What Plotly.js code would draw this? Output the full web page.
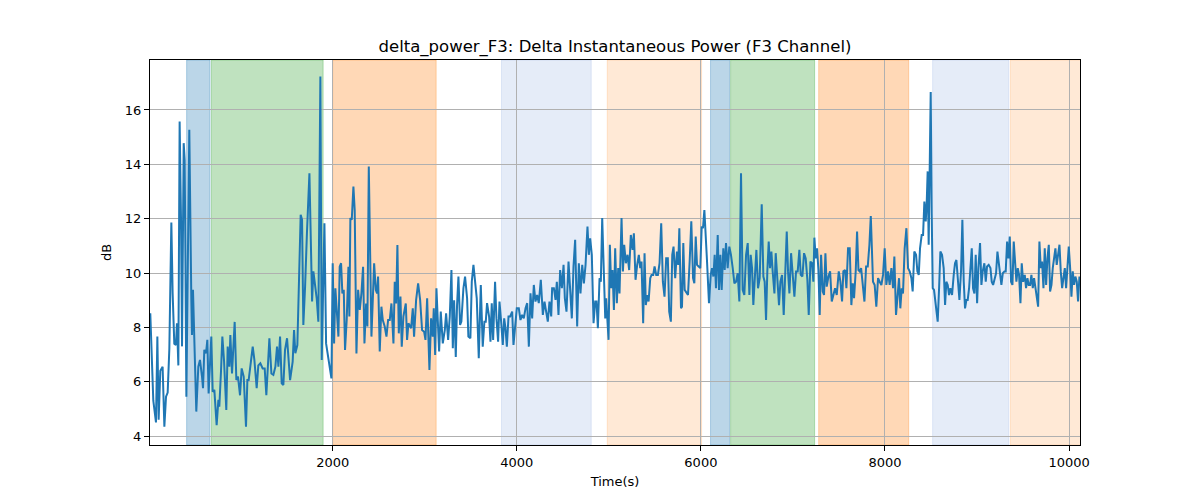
<!DOCTYPE html>
<html>
<head>
<meta charset="utf-8">
<script src="https://cdn.plot.ly/plotly-3.0.1.min.js"></script>
<style>
	html, body { margin: 0; padding: 0; background: #fff; }
	#chart { width: 1200px; height: 500px; }
</style>
</head>
<body>
<div id="chart"></div>
<script>
// time in seconds and delta power in dB
var timeSec = [
	18, 51, 80, 95, 109, 127, 152, 171, 189, 207, 225, 247, 261, 279, 297, 308, 323, 337, 352, 363,
	381, 392, 410, 442, 464, 471, 482, 497, 518, 540, 558, 580, 591, 605, 624, 638, 652, 681, 696, 714,
	739, 758, 768, 787, 801, 819, 844, 859, 877, 888, 906, 935, 953, 971, 993, 1011, 1033, 1058, 1073, 1087,
	1102, 1131, 1149, 1174, 1192, 1214, 1239, 1261, 1279, 1312, 1334, 1355, 1377, 1395, 1410, 1428, 1446, 1464, 1482, 1504,
	1537, 1565, 1580, 1594, 1616, 1652, 1667, 1681, 1700, 1710, 1720, 1747, 1776, 1790, 1808, 1826, 1844, 1866, 1881, 1895,
	1910, 1928, 1957, 1986, 2000, 2015, 2029, 2044, 2062, 2076, 2091, 2105, 2120, 2134, 2152, 2171, 2181, 2192, 2207, 2225,
	2239, 2258, 2276, 2294, 2312, 2330, 2345, 2363, 2377, 2392, 2410, 2421, 2450, 2468, 2482, 2493, 2511, 2529, 2544, 2565,
	2584, 2602, 2620, 2638, 2660, 2674, 2689, 2703, 2718, 2736, 2750, 2768, 2794, 2808, 2823, 2837, 2852, 2870, 2884, 2906,
	2928, 2950, 2971, 2993, 3008, 3026, 3051, 3069, 3087, 3098, 3113, 3127, 3142, 3156, 3174, 3196, 3218, 3232, 3254, 3272,
	3290, 3305, 3319, 3337, 3351, 3366, 3384, 3398, 3420, 3438, 3460, 3474, 3496, 3511, 3529, 3547, 3565, 3587, 3609, 3630,
	3648, 3663, 3677, 3699, 3714, 3728, 3743, 3764, 3779, 3797, 3812, 3830, 3848, 3863, 3877, 3892, 3910, 3928, 3950, 3964,
	3982, 4000, 4022, 4040, 4058, 4076, 4095, 4113, 4131, 4149, 4167, 4185, 4203, 4221, 4239, 4261, 4283, 4301, 4319, 4337,
	4355, 4374, 4384, 4403, 4421, 4435, 4453, 4471, 4490, 4508, 4522, 4540, 4562, 4580, 4598, 4616, 4634, 4656, 4674, 4692,
	4711, 4729, 4747, 4768, 4783, 4797, 4815, 4834, 4852, 4866, 4881, 4899, 4913, 4928, 4946, 4961, 4971, 4982, 4997, 5011,
	5026, 5040, 5055, 5069, 5087, 5102, 5116, 5138, 5153, 5167, 5185, 5203, 5221, 5239, 5258, 5272, 5290, 5308, 5326, 5341,
	5355, 5373, 5388, 5402, 5417, 5432, 5450, 5464, 5482, 5497, 5515, 5533, 5551, 5569, 5587, 5605, 5623, 5641, 5656, 5674,
	5689, 5703, 5721, 5740, 5754, 5766, 5784, 5795, 5809, 5824, 5846, 5860, 5878, 5896, 5915, 5929, 5944, 5958, 5976, 5994,
	6009, 6023, 6038, 6052, 6067, 6088, 6107, 6121, 6136, 6150, 6164, 6183, 6197, 6212, 6226, 6244, 6259, 6273, 6291, 6309,
	6327, 6346, 6364, 6382, 6400, 6418, 6436, 6454, 6472, 6491, 6509, 6527, 6541, 6556, 6570, 6588, 6603, 6621, 6639, 6661,
	6679, 6693, 6708, 6722, 6737, 6751, 6766, 6780, 6799, 6813, 6831, 6849, 6864, 6882, 6900, 6918, 6933, 6947, 6962, 6980,
	6998, 7016, 7034, 7052, 7070, 7085, 7103, 7121, 7139, 7157, 7172, 7190, 7208, 7222, 7233, 7248, 7262, 7277, 7291, 7306,
	7324, 7338, 7353, 7367, 7386, 7404, 7422, 7440, 7458, 7476, 7498, 7516, 7534, 7548, 7567, 7581, 7599, 7617, 7635, 7650,
	7664, 7683, 7697, 7712, 7726, 7741, 7759, 7777, 7795, 7813, 7831, 7846, 7870, 7888, 7906, 7925, 7943, 7961, 7979, 7997,
	8015, 8033, 8051, 8070, 8088, 8102, 8120, 8138, 8153, 8167, 8182, 8196, 8214, 8233, 8251, 8269, 8287, 8301, 8319, 8338,
	8352, 8367, 8381, 8399, 8414, 8428, 8443, 8454, 8464, 8475, 8486, 8497, 8508, 8519, 8533, 8548, 8559, 8573, 8588, 8602,
	8620, 8638, 8653, 8667, 8682, 8696, 8711, 8729, 8747, 8761, 8776, 8794, 8809, 8827, 8841, 8856, 8870, 8885, 8899, 8914,
	8928, 8943, 8957, 8972, 8986, 9001, 9015, 9033, 9048, 9062, 9080, 9095, 9109, 9127, 9146, 9160, 9175, 9189, 9207, 9222,
	9236, 9251, 9265, 9280, 9298, 9312, 9327, 9341, 9356, 9370, 9385, 9399, 9414, 9428, 9443, 9457, 9472, 9486, 9501, 9519,
	9533, 9548, 9562, 9577, 9591, 9606, 9620, 9635, 9649, 9664, 9678, 9693, 9707, 9722, 9736, 9751, 9765, 9780, 9794, 9809,
	9823, 9838, 9852, 9866, 9881, 9896, 9910, 9925, 9939, 9954, 9968, 9983, 9997, 10012, 10026, 10040, 10055, 10069, 10084, 10098,
	10113
];

var deltaDb = [
	8.52, 5.3, 4.5, 7.66, 4.6, 6.4, 6.55, 4.34, 5.45, 5.6, 7.2, 11.86, 9.25, 7.4, 7.35, 8.15, 6.6, 15.58, 11.95, 7.3,
	14.78, 14.16, 5.45, 15.27, 9.0, 7.72, 9.38, 7.66, 4.9, 6.55, 6.8, 6.19, 5.76, 7.17, 7.05, 7.54, 5.57, 7.66, 5.63, 5.7,
	4.4, 5.33, 5.08, 6.43, 7.66, 6.8, 4.96, 7.29, 6.55, 7.72, 6.3, 8.2, 6.06, 6.19, 5.5, 6.49, 6.19, 4.34, 6.06, 6.06,
	6.43, 7.29, 6.8, 5.76, 6.6, 6.68, 6.49, 6.49, 5.5, 7.6, 6.3, 6.25, 6.55, 7.29, 6.55, 7.66, 5.94, 5.88, 7.17, 7.6,
	6.06, 6.74, 7.9, 7.05, 7.35, 12.14, 11.96, 8.09, 9.5, 10.97, 11.46, 13.67, 8.95, 10.06, 9.62, 9.07, 8.21, 17.23, 6.8, 9.0,
	11.83, 7.41, 6.8, 6.12, 10.36, 7.41, 9.44, 8.52, 7.66, 10.23, 10.36, 9.25, 9.38, 7.17, 8.27, 10.23, 8.4, 12.02, 11.96, 13.18,
	12.32, 7.04, 9.38, 8.64, 9.25, 10.23, 7.41, 8.88, 8.03, 13.92, 9.25, 7.66, 10.36, 9.38, 9.25, 9.87, 7.11, 8.76, 8.27, 8.03,
	7.66, 8.27, 8.27, 8.88, 7.41, 9.68, 8.88, 11.03, 7.78, 9.13, 7.29, 8.4, 8.88, 7.54, 8.15, 8.03, 7.97, 8.7, 7.66, 9.0,
	9.62, 9.0, 7.9, 7.84, 7.54, 9.07, 6.43, 8.33, 7.66, 8.7, 6.98, 9.44, 8.27, 7.11, 8.58, 7.41, 7.9, 8.52, 7.54, 8.4,
	10.11, 7.23, 9.0, 6.91, 8.82, 9.87, 8.09, 8.21, 9.44, 9.87, 9.07, 7.66, 7.6, 9.68, 10.3, 9.56, 9.07, 6.86, 9.56, 7.29,
	8.21, 8.21, 8.89, 8.4, 7.47, 8.89, 7.54, 9.68, 8.33, 7.47, 8.95, 8.21, 7.35, 8.33, 7.97, 7.29, 8.4, 8.4, 8.58, 7.35,
	8.15, 8.7, 8.7, 8.27, 8.46, 8.33, 8.7, 8.89, 7.29, 9.25, 8.33, 9.56, 8.95, 9.19, 8.89, 9.75, 8.46, 8.95, 8.58, 8.21,
	8.95, 8.4, 9.44, 9.44, 9.01, 9.68, 8.46, 10.11, 9.44, 10.3, 9.07, 8.58, 10.42, 9.32, 8.33, 10.24, 11.22, 8.03, 10.36, 9.25,
	10.3, 9.62, 10.3, 11.71, 10.67, 11.28, 10.67, 8.15, 8.95, 8.95, 7.97, 9.81, 9.68, 12.02, 9.44, 8.33, 9.07, 8.27, 7.54, 11.04,
	9.44, 10.11, 8.64, 10.91, 8.89, 10.18, 9.25, 12.02, 10.06, 11.04, 10.36, 10.67, 10.11, 11.4, 10.85, 11.46, 9.75, 10.3, 10.67, 10.18,
	10.42, 8.15, 10.73, 8.82, 9.19, 8.95, 9.81, 9.93, 9.93, 10.24, 9.93, 9.93, 10.36, 11.83, 9.68, 9.13, 10.54, 10.54, 8.58, 8.21,
	10.67, 10.97, 9.81, 10.79, 10.3, 11.65, 8.7, 8.76, 11.1, 9.38, 9.25, 9.19, 10.42, 11.9, 9.81, 9.62, 11.34, 10.3, 10.24, 10.18,
	11.71, 11.65, 12.32, 11.53, 10.42, 8.89, 9.93, 10.18, 9.87, 10.67, 9.44, 11.4, 9.38, 10.67, 9.38, 10.91, 10.11, 11.1, 10.18, 10.97,
	10.67, 10.18, 9.62, 9.68, 9.99, 8.95, 13.67, 9.38, 9.19, 10.67, 11.1, 9.19, 10.67, 10.18, 8.82, 9.93, 10.85, 9.44, 9.81, 12.53,
	9.87, 9.68, 8.27, 10.06, 11.16, 10.18, 10.79, 10.06, 9.25, 10.73, 9.81, 8.82, 9.68, 9.93, 8.46, 10.06, 11.53, 10.06, 9.25, 10.73,
	9.87, 9.13, 10.06, 10.06, 10.85, 9.93, 9.87, 10.73, 10.54, 9.75, 8.46, 10.42, 10.36, 9.68, 11.3, 10.54, 10.91, 10.11, 8.46, 10.67,
	9.32, 9.19, 10.73, 9.5, 9.87, 10.06, 8.95, 9.25, 9.44, 9.19, 10.06, 9.68, 8.95, 10.06, 10.11, 9.44, 10.91, 10.91, 8.82, 9.62,
	9.07, 10.11, 11.53, 10.11, 10.06, 10.18, 9.44, 8.95, 10.24, 10.24, 11.04, 12.1, 9.68, 9.56, 8.76, 9.81, 9.68, 9.56, 9.93, 10.91,
	9.56, 10.06, 9.56, 10.18, 9.44, 10.61, 8.46, 9.19, 9.81, 8.7, 9.44, 9.25, 10.91, 11.65, 10.18, 10.06, 9.81, 9.32, 10.79, 10.67,
	10.06, 9.93, 10.91, 11.4, 11.4, 12.63, 11.9, 12.63, 13.74, 11.04, 13.86, 16.66, 12.14, 9.44, 9.38, 8.89, 8.46, 8.21, 9.44, 10.79,
	10.67, 10.18, 8.82, 9.68, 9.56, 9.19, 9.44, 9.19, 9.93, 10.36, 10.48, 9.68, 9.01, 10.11, 11.96, 9.68, 8.7, 9.01, 9.01, 9.44,
	10.18, 10.91, 9.44, 9.25, 10.67, 8.89, 10.18, 11.1, 9.56, 10.06, 10.36, 9.68, 10.24, 10.3, 10.18, 9.68, 9.56, 9.75, 9.99, 10.79,
	10.3, 9.93, 9.56, 9.99, 10.06, 10.06, 11.16, 10.54, 11.34, 9.68, 9.56, 11.16, 10.3, 9.68, 10.18, 9.93, 8.89, 10.36, 9.68, 9.93,
	9.44, 9.81, 9.56, 9.56, 9.93, 9.44, 9.81, 9.44, 8.95, 8.76, 11.16, 10.18, 10.42, 9.44, 10.91, 9.56, 10.54, 11.04, 9.32, 9.56,
	10.18, 10.67, 10.91, 10.3, 10.67, 11.04, 10.06, 9.44, 9.81, 10.18, 9.44, 10.3, 10.97, 10.18, 9.13, 10.06, 9.56, 9.87, 9.68, 8.95,
	9.87
];

// shaded stage intervals (s)
var bandStart = [413, 682, 2000, 3834, 4983, 6105, 6323, 7280, 8518, 9363];
var bandEnd = [667, 1896, 3124, 4809, 6008, 6312, 7236, 8258, 9345, 10200];
var bandKind = ['blue', 'green', 'orange', 'paleblue', 'paleorange', 'blue', 'green', 'orange', 'paleblue', 'paleorange'];

var kindColour = {
	blue: 'rgba(31, 119, 180, 0.3)',
	green: 'rgba(44, 160, 44, 0.3)',
	orange: 'rgba(255, 127, 14, 0.3)',
	paleblue: 'rgba(80, 130, 210, 0.15)',
	paleorange: 'rgba(255, 127, 14, 0.17)'
};

var shapes_object = [];
for (var i = 0; i < bandStart.length; i++) {
	shapes_object.push({
		type: 'rect',
		layer: 'between',
		xref: 'x',
		yref: 'paper',
		x0: bandStart[i],
		x1: bandEnd[i],
		y0: 0,
		y1: 1,
		fillcolor: kindColour[bandKind[i]],
		line: { width: 1, color: kindColour[bandKind[i]] }
	});
}

var power = {
	x: timeSec,
	y: deltaDb,
	type: 'scatter',
	mode: 'lines',
	line: { color: '#1f77b4', width: 2 },
	hoverinfo: 'x+y'
};

var font_family = 'DejaVu Sans, sans-serif';

var layout = {
	width: 1200,
	height: 500,
	margin: { l: 150, r: 120, t: 60, b: 55 },
	paper_bgcolor: '#ffffff',
	plot_bgcolor: '#ffffff',
	showlegend: false,
	font: { family: font_family, size: 13, color: '#000' },
	title: {
		text: 'delta_power_F3: Delta Instantaneous Power (F3 Channel)',
		font: { family: font_family, size: 16.5, color: '#000' },
		x: 0.5125,
		xanchor: 'center',
		y: 0.907,
		yanchor: 'middle'
	},
	xaxis: {
		title: { text: 'Time(s)', font: { size: 13 }, standoff: 8 },
		range: [15, 10119],
		tickvals: [2000, 4000, 6000, 8000, 10000],
		ticktext: ['2000', '4000', '6000', '8000', '10000'],
		ticks: 'outside',
		ticklen: 5,
		tickcolor: '#000',
		showline: true,
		mirror: true,
		linecolor: '#000',
		linewidth: 1,
		showgrid: true,
		gridcolor: '#b0b0b0',
		gridwidth: 1,
		zeroline: false,
		tickfont: { size: 13 }
	},
	yaxis: {
		title: { text: 'dB', font: { size: 13 }, standoff: 10 },
		range: [3.67, 17.84],
		tickvals: [4, 6, 8, 10, 12, 14, 16],
		ticks: 'outside',
		ticklen: 5,
		tickcolor: '#000',
		showline: true,
		mirror: true,
		linecolor: '#000',
		linewidth: 1,
		showgrid: true,
		gridcolor: '#b0b0b0',
		gridwidth: 1,
		zeroline: false,
		tickfont: { size: 13 }
	},
	shapes: shapes_object
};

var config = { displayModeBar: false, responsive: false };

Plotly.newPlot('chart', [power], layout, config);
</script>
</body>
</html>
